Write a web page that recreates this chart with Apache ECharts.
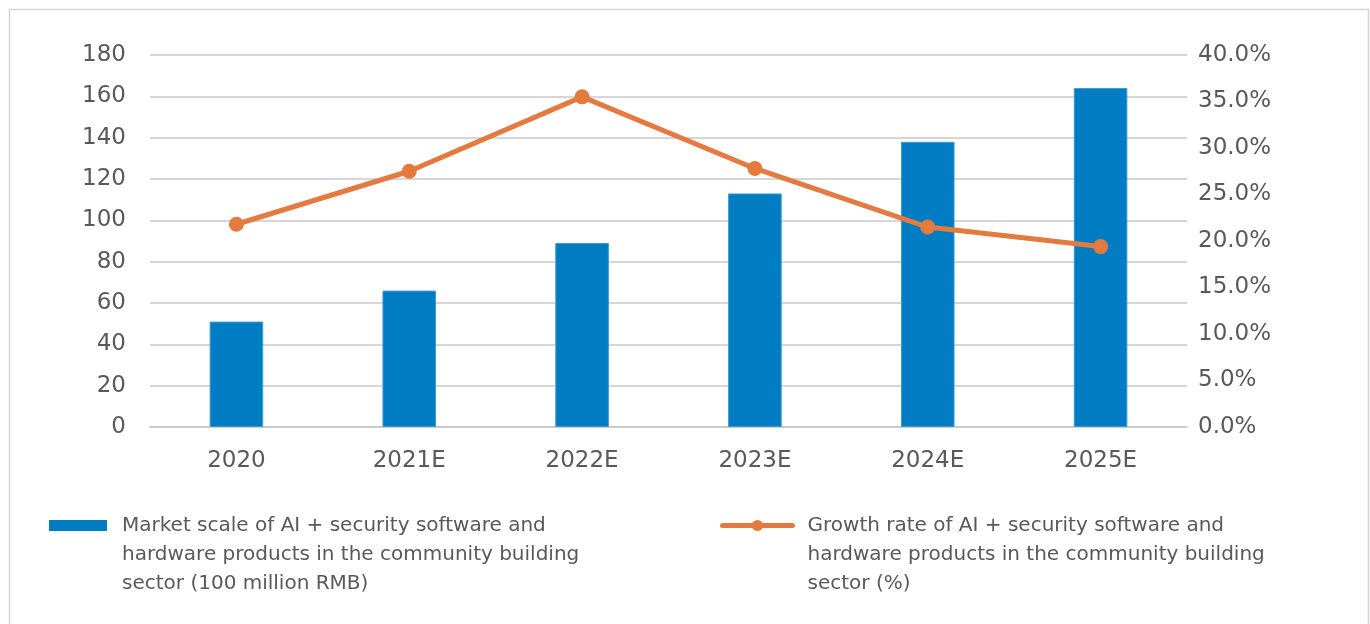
<!DOCTYPE html>
<html>
<head>
<meta charset="utf-8">
<script src="https://cdn.jsdelivr.net/npm/echarts@6/dist/echarts.min.js"></script>
<style>
html,body{margin:0;padding:0;background:#fff;}
#c{width:1370px;height:624px;}
</style>
</head>
<body>
<div id="c"></div>
<script>
const categories = ['2020','2021E','2022E','2023E','2024E','2025E'];
const marketScale = [51, 66, 89, 113, 138, 164];
const growthRate = [21.8, 27.5, 35.5, 27.8, 21.5, 19.4];
const barName = 'Market scale of AI + security software and\nhardware products in the community building\nsector (100 million RMB)';
const lineName = 'Growth rate of AI + security software and\nhardware products in the community building\nsector (%)';

const textColor = '#595959';
const font = '"DejaVu Sans", sans-serif';
const chart = echarts.init(document.getElementById('c'));
chart.setOption({
  animation: false,
  backgroundColor: '#fff',
  graphic: [{
    type: 'rect', left: 7, top: 7,
    shape: {width: 1359, height: 640},
    style: {fill: 'none', stroke: '#d4d4d4', lineWidth: 1.5},
    silent: true, z: -1
  }],
  grid: {left: 150, right: 183, top: 55, bottom: 197},
  legend: [{
    data: [barName],
    left: 49, top: 453, padding: 0,
    itemWidth: 58, itemHeight: 11, itemGap: 0,
    icon: 'rect',
    itemStyle: {borderWidth: 0},
    formatter: n => '\n\n' + n,
    textStyle: {color: textColor, fontSize: 20, fontFamily: font, lineHeight: 29, padding: [0,0,0,10]}
  },{
    data: [lineName],
    left: 720, top: 453, padding: 0,
    itemWidth: 70, itemHeight: 14, itemGap: 0,
    lineStyle: {width: 5, cap: 'round'},
    formatter: n => '\n\n' + n,
    textStyle: {color: textColor, fontSize: 20, fontFamily: font, lineHeight: 29, padding: [0,0,0,10]}
  }],
  xAxis: {
    type: 'category', data: categories,
    axisLine: {lineStyle: {color: '#c8c8c8', width: 1.5}},
    axisTick: {show: false},
    axisLabel: {color: textColor, fontSize: 23, fontFamily: font, margin: 23}
  },
  yAxis: [{
    type: 'value', min: 0, max: 180, interval: 20,
    axisLine: {show: false}, axisTick: {show: false},
    splitLine: {lineStyle: {color: '#c8c8c8', width: 1.5}},
    axisLabel: {color: textColor, fontSize: 23, fontFamily: font, margin: 24}
  },{
    type: 'value', min: 0, max: 40, interval: 5,
    axisLine: {show: false}, axisTick: {show: false},
    splitLine: {show: false},
    axisLabel: {color: textColor, fontSize: 23, fontFamily: font, margin: 11,
      formatter: v => v.toFixed(1) + '%'}
  }],
  series: [{
    name: barName, type: 'bar', data: marketScale,
    barWidth: '31%',
    itemStyle: {color: '#007CC3', borderColor: '#3a9ad6', borderWidth: 1}
  },{
    name: lineName, type: 'line', yAxisIndex: 1, data: growthRate,
    symbol: 'circle', symbolSize: 15,
    lineStyle: {color: '#E57A40', width: 5},
    itemStyle: {color: '#E57A40'}
  }]
});
</script>
</body>
</html>
